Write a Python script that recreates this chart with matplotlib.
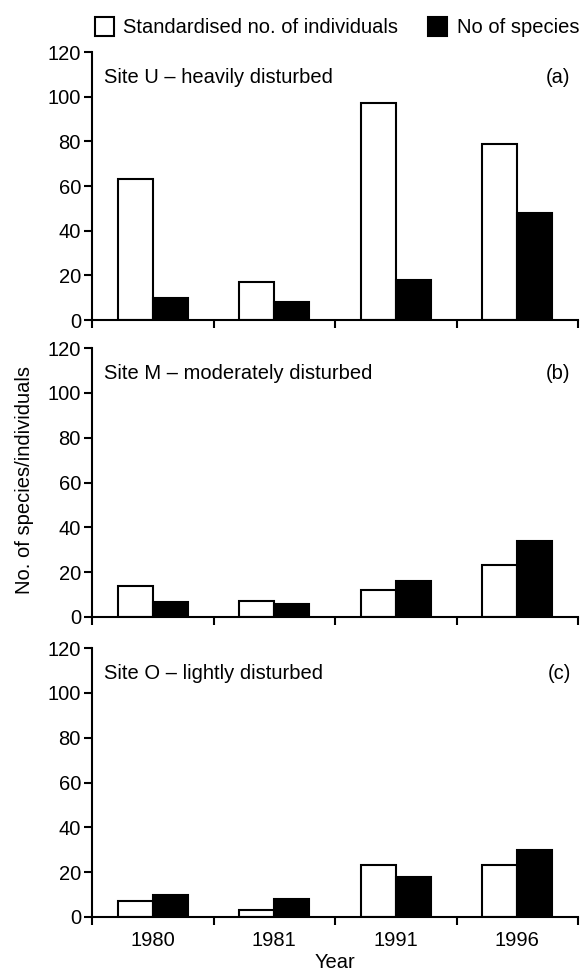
import matplotlib.pyplot as plt
import numpy as np

plt.rcParams['font.family'] = ['Liberation Sans', 'DejaVu Sans']

years = ['1980', '1981', '1991', '1996']
sites = ['Site U – heavily disturbed', 'Site M – moderately disturbed', 'Site O – lightly disturbed']
panel_tags = ['(a)', '(b)', '(c)']

# standardised number of individuals, per site
individuals_u = [63, 17, 97, 79]
individuals_m = [14, 7, 12, 23]
individuals_o = [7, 3, 23, 23]

# number of species, per site
species_u = [10, 8, 18, 48]
species_m = [6.5, 6, 16, 34]
species_o = [10, 8, 18, 30]

individuals = [individuals_u, individuals_m, individuals_o]
species = [species_u, species_m, species_o]

fig = plt.figure(figsize=(5.81, 9.73), dpi=100)
W, H = 581, 973
left, right = 92 / W, 578 / W
panels = [(52, 320), (348, 617), (648, 917)]

x = np.arange(len(years))
bw = 0.29

for k, (top, bot) in enumerate(panels):
    ax = fig.add_axes([left, 1 - bot / H, right - left, (bot - top) / H])
    ax.bar(x - bw / 2, individuals[k], bw, color='white', edgecolor='black', linewidth=1.5)
    ax.bar(x + bw / 2, species[k], bw, color='black', edgecolor='black', linewidth=1.5)
    ax.set_xlim(-0.5, 3.5)
    ax.set_ylim(0, 120)
    ax.set_yticks(range(0, 121, 20))
    ax.spines['top'].set_visible(False)
    ax.spines['right'].set_visible(False)
    for s in ('left', 'bottom'):
        ax.spines[s].set_linewidth(1.5)
    ax.tick_params(axis='y', direction='out', length=6, width=1.5, labelsize=14.5, pad=2)
    ax.set_xticks(np.arange(-0.5, 3.6, 1.0), minor=True)
    ax.tick_params(axis='x', which='minor', direction='out', length=6, width=1.5)
    ax.set_xticks(x)
    if k == 2:
        ax.set_xticklabels(years)
        ax.tick_params(axis='x', which='major', length=0, labelsize=14.5, pad=10)
        ax.set_xlabel('Year', fontsize=14.5, labelpad=2)
    else:
        ax.set_xticklabels([])
        ax.tick_params(axis='x', which='major', length=0)
    ax.text(0.025, 0.905, sites[k], transform=ax.transAxes, fontsize=14.5,
            ha='left', va='center')
    ax.text(0.985, 0.905, panel_tags[k], transform=ax.transAxes, fontsize=14.5,
            ha='right', va='center')

fig.text(24 / W, 1 - 480 / H, 'No. of species/individuals', rotation=90,
         ha='center', va='center', fontsize=14.5)

# legend row above the top panel
handles = [plt.Rectangle((0, 0), 1, 1, facecolor='white', edgecolor='black', linewidth=1.5),
           plt.Rectangle((0, 0), 1, 1, facecolor='black', edgecolor='black', linewidth=1.5)]
fig.legend(handles, ['Standardised no. of individuals', 'No of species'],
           loc='center', bbox_to_anchor=(337 / W, 1 - 27 / H), ncol=2, frameon=False,
           fontsize=14.5, handlelength=0.95, handleheight=1.1, handletextpad=0.45,
           columnspacing=1.5, borderaxespad=0)

fig.savefig('out.png', dpi=100)
